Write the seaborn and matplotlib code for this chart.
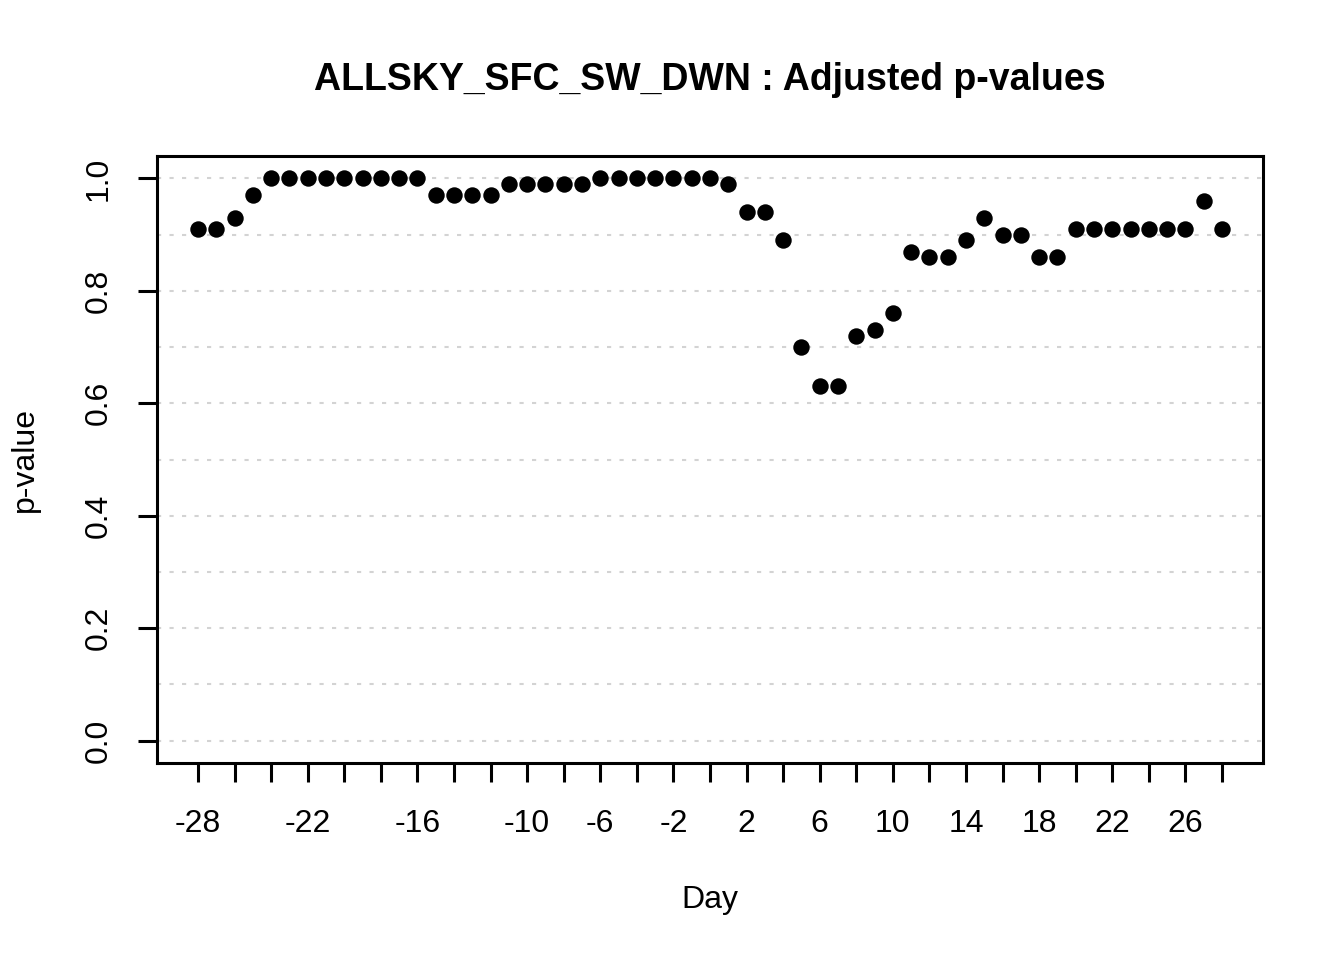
import numpy as np
import pandas as pd
import matplotlib
matplotlib.use("Agg")
import matplotlib.pyplot as plt
import seaborn as sns

# data
days = list(range(-28, 29))
pvals = [0.91, 0.91, 0.93, 0.97, 1.00, 1.00, 1.00, 1.00, 1.00, 1.00, 1.00, 1.00, 1.00,
         0.97, 0.97, 0.97, 0.97, 0.99, 0.99, 0.99, 0.99, 0.99,
         1.00, 1.00, 1.00, 1.00, 1.00, 1.00, 1.00,
         0.99, 0.94, 0.94, 0.89, 0.70, 0.63, 0.63, 0.72, 0.73, 0.76,
         0.87, 0.86, 0.86, 0.89, 0.93, 0.90, 0.90, 0.86, 0.86,
         0.91, 0.91, 0.91, 0.91, 0.91, 0.91, 0.91, 0.96, 0.91]
xticks = list(range(-28, 29, 2))
xlabels_shown = [-28, -22, -16, -10, -6, -2, 2, 6, 10, 14, 18, 22, 26]
yticks = [0.0, 0.2, 0.4, 0.6, 0.8, 1.0]
ygrid = [i / 10 for i in range(11)]

df = pd.DataFrame({"Day": days, "p": pvals})

sns.set_style("white")
plt.rcParams["font.family"] = ["Liberation Sans", "DejaVu Sans"]
plt.rcParams["text.color"] = "black"

fig = plt.figure(figsize=(13.44, 9.6), dpi=100)
ax = fig.add_axes([157 / 1344, 1 - 763 / 960, (1263 - 157) / 1344, (763 - 156) / 960])

for g in ygrid:
    ax.axhline(g, color="#d3d3d3", lw=1.5, ls=(0, (2, 4)), zorder=0)

sns.scatterplot(data=df, x="Day", y="p", ax=ax, color="black", s=140,
                edgecolor="black", linewidth=0, zorder=3)

ax.set_xlim(-30.24, 30.24)
ax.set_ylim(-0.04, 1.04)
ax.set_xticks(xticks)
ax.set_xticklabels([str(t) if t in xlabels_shown else "" for t in xticks])
ax.set_yticks(yticks)
ax.set_yticklabels([f"{t:.1f}" for t in yticks], rotation=90, va="center")

ax.tick_params(axis="both", direction="out", length=14, width=2.2, colors="black",
               labelsize=23, bottom=True, left=True)
ax.tick_params(axis="x", pad=19)
ax.tick_params(axis="y", pad=17)
for sp in ax.spines.values():
    sp.set_visible(True)
    sp.set_linewidth(2.2)
    sp.set_color("black")

ax.set_xlabel("")
ax.set_ylabel("")
fig.text(710 / 1344, 1 - 900 / 960, "Day", ha="center", va="center", fontsize=23,
         color="black")
fig.text(25 / 1344, 1 - 460 / 960, "p-value", ha="center", va="center", fontsize=23,
         rotation=90, color="black")
fig.text(710 / 1344, 1 - 80 / 960, "ALLSKY_SFC_SW_DWN : Adjusted p-values",
         ha="center", va="center", fontsize=27, fontweight="bold", color="black")

fig.savefig("out.png", dpi=100, facecolor="white")
